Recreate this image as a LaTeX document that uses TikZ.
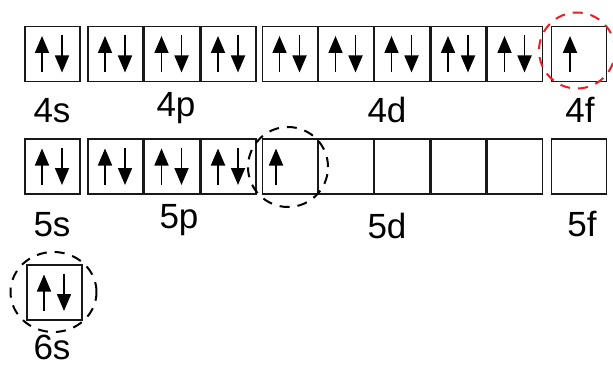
\documentclass[tikz,border=0pt]{standalone}
\usepackage{fontspec}
\setmainfont{Liberation Sans}
\usetikzlibrary{arrows.meta}
\begin{document}
\begin{tikzpicture}[x=1pt,y=-1pt,
  orb/.style={draw=black!90, line width=1.6pt, minimum width=55pt, minimum height=55pt, inner sep=0pt, outer sep=0pt},
  lbl/.style={font=\fontsize{35}{40}\selectfont, inner sep=0pt, anchor=center},
  spin/.style={line width=1.8pt, -{Triangle[length=17pt,width=14pt]}},
  ring/.style={dash pattern=on 10pt off 8pt, line width=2pt},
  redring/.style={ring, draw={rgb,255:red,235;green,30;blue,35}}]
\useasboundingbox (0,0) rectangle (613,369);
% row 4
\node[orb] (b4s)  at (52.5,54) {};
\node[orb] (b4p1) at (115.5,54) {};
\node[orb] (b4p2) at (172,54) {};
\node[orb] (b4p3) at (228.5,54) {};
\node[orb] (b4d1) at (290,54) {};
\node[orb] (b4d2) at (346,54) {};
\node[orb] (b4d3) at (402,54) {};
\node[orb] (b4d4) at (458.5,54) {};
\node[orb] (b4d5) at (515,54) {};
\node[orb] (b4f)  at (579,54) {};
% row 5
\node[orb] (b5s)  at (52.5,166.5) {};
\node[orb] (b5p1) at (115.5,166.5) {};
\node[orb] (b5p2) at (172,166.5) {};
\node[orb] (b5p3) at (228.5,166.5) {};
\node[orb] (b5d1) at (290,166.5) {};
\node[orb] (b5d2) at (346,166.5) {};
\node[orb] (b5d3) at (402,166.5) {};
\node[orb] (b5d4) at (458.5,166.5) {};
\node[orb] (b5d5) at (515,166.5) {};
\node[orb] (b5f)  at (579,166.5) {};
% row 6
\node[orb] (b6s)  at (54.5,292.5) {};
% electron pairs
\foreach \b in {b4s,b4p1,b4p2,b4p3,b4d1,b4d2,b4d3,b4d4,b4d5,b5s,b5p1,b5p2,b5p3,b6s}{
  \draw[spin] ([shift={(-10.5,18.5)}]\b.center) -- ([shift={(-10.5,-18)}]\b.center);
  \draw[spin] ([shift={(9.5,-19)}]\b.center) -- ([shift={(9.5,18.5)}]\b.center);
}
\draw[spin] ([shift={(-9,18.5)}]b4f.center) -- ([shift={(-9,-18)}]b4f.center);
\draw[spin] ([shift={(-14,18.5)}]b5d1.center) -- ([shift={(-14,-18)}]b5d1.center);
% labels
\node[lbl] (l4s) at (52,111) {4s};
\node[lbl] (l4p) at (176,108) {4p};
\node[lbl] (l4d) at (387,110) {4d};
\node[lbl] (l4f) at (580,110) {4f};
\node[lbl] (l5s) at (52,225) {5s};
\node[lbl] (l5p) at (179,220) {5p};
\node[lbl] (l5d) at (387,226) {5d};
\node[lbl] (l5f) at (582,224) {5f};
\node[lbl] (l6s) at (52,347) {6s};
% rings
\draw[redring] ([shift={(-2,-3.5)}]b4f.center) circle (38pt);
\draw[ring] ([shift={(-2,0.5)}]b5d1.center) circle (40pt);
\draw[ring] ([shift={(-1,-0.5)}]b6s.center) ellipse (43pt and 40pt);
\end{tikzpicture}
\end{document}
